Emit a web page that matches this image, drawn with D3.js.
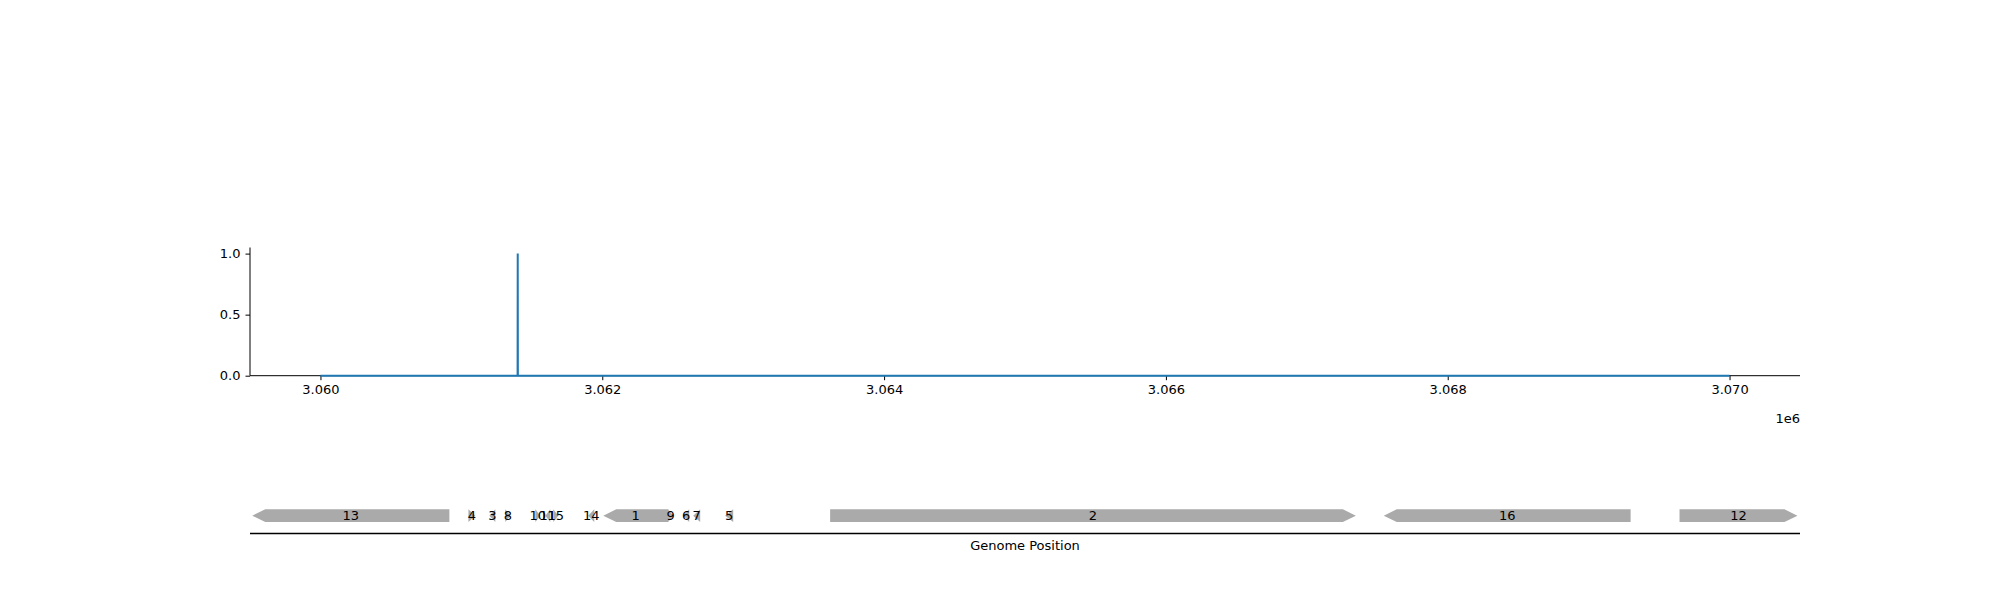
<!DOCTYPE html>
<html>
<head>
<meta charset="utf-8">
<script src="https://cdn.jsdelivr.net/npm/d3@7"></script>
<style>
  body { margin: 0; background: #fff; }
  text { font-family: "DejaVu Sans", sans-serif; }
</style>
</head>
<body>
<svg id="chart" width="2000" height="600"></svg>
<script>
// coverage signal
const coverageX = [3060000, 3061399, 3061400, 3061401, 3070000];
const coverageY = [0, 0, 1.0, 0, 0];

// genes: label, start, end, strand
const geneLabels = ['13', '4', '3', '8', '10', '11', '15', '14', '1', '9', '6', '7', '5', '2', '16', '12'];
const geneStarts = [3059516, 3061050, 3061199, 3061312, 3061525, 3061596, 3061652, 3061900, 3062007, 3062468, 3062574, 3062645, 3062872, 3063617, 3067546, 3069645];
const geneEnds   = [3060915, 3061099, 3061241, 3061348, 3061560, 3061631, 3061688, 3061943, 3062468, 3062504, 3062617, 3062695, 3062929, 3067348, 3069298, 3070482];
const geneStrands = [-1, 1, -1, 1, 1, -1, 1, -1, -1, 1, -1, -1, -1, 1, -1, 1];

const xTicks = [3060000, 3062000, 3064000, 3066000, 3068000, 3070000];
const yTicks = [0, 0.5, 1.0];

const svg = d3.select('#chart');
const x = d3.scaleLinear().domain([3059500, 3070500]).range([250, 1800]);
const y = d3.scaleLinear().domain([0, 1.05]).range([375.7, 247.5]);

// coverage axes
svg.append('g').attr('transform', 'translate(0,375.7)')
    .call(d3.axisBottom(x).tickValues(xTicks).tickSize(4.5).tickPadding(5)
        .tickFormat(d => (d / 1e6).toFixed(3)))
    .call(g => g.select('.domain').attr('d', 'M250,0H1800'));
svg.append('g').attr('transform', 'translate(250,0)')
    .call(d3.axisLeft(y).tickValues(yTicks).tickSize(4.5).tickPadding(5).tickFormat(d3.format('.1f')))
    .call(g => g.select('.domain').attr('d', 'M0,375.7V247.5'));
svg.selectAll('.tick text').attr('font-size', 13).attr('fill', '#000');
svg.selectAll('.tick line').attr('stroke', '#000');

svg.append('text').attr('x', 1800).attr('y', 423).attr('text-anchor', 'end')
    .attr('font-size', 13).text('1e6');

const line = d3.line().x(d => x(d)).y((d, i) => y(coverageY[i]));
svg.append('path').datum(coverageX).attr('d', line)
    .attr('fill', 'none').attr('stroke', '#1f77b4').attr('stroke-width', 2);

// gene track
const gTop = 509.3, gBot = 522, gMid = (gTop + gBot) / 2, head = 13;
geneLabels.forEach((lab, i) => {
    const x0 = x(geneStarts[i]), x1 = x(geneEnds[i]);
    let pts;
    if (geneStrands[i] > 0) {
        const hx = Math.max(x0, x1 - head);
        pts = [[x0, gTop], [hx, gTop], [x1, gMid], [hx, gBot], [x0, gBot]];
    } else {
        const hx = Math.min(x1, x0 + head);
        pts = [[x0, gMid], [hx, gTop], [x1, gTop], [x1, gBot], [hx, gBot]];
    }
    svg.append('polygon').attr('points', pts.map(p => p.join(',')).join(' '))
        .attr('fill', '#aaaaaa');
    svg.append('text').attr('x', (x0 + x1) / 2).attr('y', gMid + 4.8)
        .attr('text-anchor', 'middle').attr('font-size', 13).text(lab);
});
svg.append('line').attr('x1', 250).attr('x2', 1800).attr('y1', 533.5).attr('y2', 533.5)
    .attr('stroke', '#000').attr('stroke-width', 1.5);
svg.append('text').attr('x', 1025).attr('y', 550).attr('text-anchor', 'middle')
    .attr('font-size', 13).text('Genome Position');
</script>
</body>
</html>
